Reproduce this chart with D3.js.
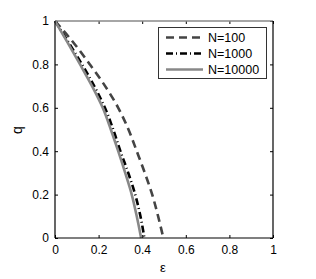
<!DOCTYPE html>
<html><head><meta charset="utf-8">
<script src="https://cdn.jsdelivr.net/npm/d3@7"></script>
<style>body{margin:0;background:#fff}svg{display:block}text{font-family:"Liberation Sans",Arial,sans-serif}</style>
</head><body>
<svg id="c" width="316" height="279"></svg>
<script>
const qLevels = [1, 0.9, 0.8, 0.7, 0.6, 0.5, 0.4, 0.3, 0.2, 0.1, 0];
const eps100   = [0, 0.085, 0.16, 0.23, 0.29, 0.337, 0.375, 0.412, 0.446, 0.473, 0.497];
const eps1000  = [0, 0.063, 0.124, 0.18, 0.229, 0.267, 0.3, 0.336, 0.368, 0.392, 0.41];
const eps10000 = [0, 0.058, 0.115, 0.17, 0.219, 0.256, 0.29, 0.322, 0.352, 0.375, 0.395];
const seriesNames = ["N=100", "N=1000", "N=10000"];
const xTicks = [0, 0.2, 0.4, 0.6, 0.8, 1];
const yTicks = [0, 0.2, 0.4, 0.6, 0.8, 1];

const svg = d3.select("#c");
const L = 55, R = 273, T = 21, B = 238;
const x = d3.scaleLinear().domain([0, 1]).range([L, R]);
const y = d3.scaleLinear().domain([0, 1]).range([B, T]);

const styles = [
  {color: "#444", width: 2.6, dash: "8,5"},
  {color: "#000", width: 2.6, dash: "7,3,1,3"},
  {color: "#888", width: 2.6, dash: null}
];
const series = [eps100, eps1000, eps10000];

// axes
const ax = svg.append("g").attr("transform", `translate(0,${B})`)
  .call(d3.axisBottom(x).tickValues(xTicks).tickSizeInner(-3).tickSizeOuter(0).tickPadding(7).tickFormat(d3.format("")));
const ay = svg.append("g").attr("transform", `translate(${L},0)`)
  .call(d3.axisLeft(y).tickValues(yTicks).tickSizeInner(-3).tickSizeOuter(0).tickPadding(6).tickFormat(d3.format("")));
const axT = svg.append("g").attr("transform", `translate(0,${T})`)
  .call(d3.axisTop(x).tickValues(xTicks).tickSizeInner(-3).tickSizeOuter(0).tickFormat(""));
const ayR = svg.append("g").attr("transform", `translate(${R},0)`)
  .call(d3.axisRight(y).tickValues(yTicks).tickSizeInner(-3).tickSizeOuter(0).tickFormat(""));
[ax, ay, axT, ayR].forEach(g => {
  g.select(".domain").remove();
  g.selectAll("line").attr("stroke", "#000").attr("stroke-width", 1);
  g.selectAll("text").attr("font-size", 12).attr("fill", "#000");
});

// curves
const line = d3.line().curve(d3.curveMonotoneY);
series.forEach((s, i) => {
  const pts = s.map((e, j) => [x(e), y(qLevels[j])]);
  svg.append("path").attr("d", line(pts)).attr("fill", "none")
    .attr("stroke", styles[i].color).attr("stroke-width", styles[i].width)
    .attr("stroke-dasharray", styles[i].dash);
});

// box
svg.append("line").attr("x1", L).attr("x2", R).attr("y1", T).attr("y2", T).attr("stroke", "#888").attr("stroke-width", 1.5);
svg.append("line").attr("x1", L).attr("x2", R).attr("y1", B).attr("y2", B).attr("stroke", "#000").attr("stroke-width", 1.2);
svg.append("line").attr("x1", L).attr("x2", L).attr("y1", T).attr("y2", B).attr("stroke", "#000").attr("stroke-width", 1.2);
svg.append("line").attr("x1", R).attr("x2", R).attr("y1", T).attr("y2", B).attr("stroke", "#000").attr("stroke-width", 1.2);

// legend
const lg = svg.append("g");
lg.append("rect").attr("x", 158.5).attr("y", 27.5).attr("width", 108).attr("height", 51)
  .attr("fill", "#fff").attr("stroke", "#333").attr("stroke-width", 1);
seriesNames.forEach((n, i) => {
  const yy = 37.5 + i * 16;
  lg.append("line").attr("x1", 166).attr("x2", 203).attr("y1", yy).attr("y2", yy)
    .attr("stroke", styles[i].color).attr("stroke-width", styles[i].width)
    .attr("stroke-dasharray", styles[i].dash);
  lg.append("text").attr("x", 208).attr("y", yy + 4.5).attr("font-size", 12.5).text(n);
});

// axis labels
svg.append("text").attr("x", 163).attr("y", 272).attr("text-anchor", "middle").attr("font-size", 13).text("ε");
svg.append("text").attr("transform", "translate(22,130) rotate(-90)").attr("text-anchor", "middle").attr("font-size", 14).text("q");
</script>
</body></html>
